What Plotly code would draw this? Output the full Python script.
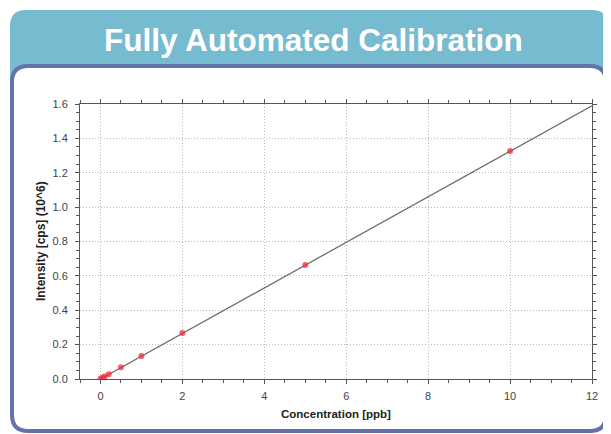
import plotly.graph_objects as go

# ---- data ----
concentration = [0, 0.05, 0.1, 0.2, 0.5, 1, 2, 5, 10]
intensity = [0.002, 0.008, 0.014, 0.027, 0.068, 0.134, 0.268, 0.664, 1.326]
fit_x = [0, 12]
fit_y = [0, 1.59]
x_ticks = [0, 2, 4, 6, 8, 10, 12]
y_ticks = [0.0, 0.2, 0.4, 0.6, 0.8, 1.0, 1.2, 1.4, 1.6]
y_tick_labels = ["0.0", "0.2", "0.4", "0.6", "0.8", "1.0", "1.2", "1.4", "1.6"]

OFF = 8  # page body margin
W, H = 611 - OFF, 434 - OFF
L, R, T, B = 80 - OFF, 19, 104 - OFF, 55
PW, PH = W - L - R, H - T - B


def px(x):
    return (x - OFF - L) / PW


def py(y):
    return 1 - (y - OFF - T) / PH


def rrect(x0, y0, x1, y1, r):
    pts = [
        ("M", [(x0 + r, y0)]),
        ("L", [(x1 - r, y0)]),
        ("Q", [(x1, y0), (x1, y0 + r)]),
        ("L", [(x1, y1 - r)]),
        ("Q", [(x1, y1), (x1 - r, y1)]),
        ("L", [(x0 + r, y1)]),
        ("Q", [(x0, y1), (x0, y1 - r)]),
        ("L", [(x0, y0 + r)]),
        ("Q", [(x0, y0), (x0 + r, y0)]),
    ]
    s = ""
    for cmd, ps in pts:
        s += cmd + " " + " ".join(f"{px(a):.5f},{py(b):.5f}" for a, b in ps) + " "
    return s + "Z"


fig = go.Figure()

fig.add_trace(go.Scatter(
    x=fit_x, y=fit_y, mode="lines",
    line=dict(color="#6e6e6e", width=1.3),
    showlegend=False, hoverinfo="skip",
))
fig.add_trace(go.Scatter(
    x=concentration, y=intensity, mode="markers",
    marker=dict(symbol="circle", size=6, color="rgba(235,45,60,0.75)",
                line=dict(width=0)),
    showlegend=False,
))

shapes = [
    dict(type="path", xref="paper", yref="paper", layer="below",
         path=rrect(10, 10, 608, 110, 16),
         fillcolor="#77BBD0", line=dict(width=0)),
    dict(type="path", xref="paper", yref="paper", layer="below",
         path=rrect(12, 66, 606, 431, 16),
         fillcolor="white", line=dict(color="#6272AA", width=4)),
]

annotations = [
    dict(text="<b>Fully Automated Calibration</b>", x=px(313), y=py(40),
         xref="paper", yref="paper", showarrow=False,
         font=dict(family="Liberation Sans, Arial", size=31.5, color="white"),
         xanchor="center", yanchor="middle"),
    dict(text="<b>Intensity [cps] (10^6)</b>", x=px(41), y=py(241),
         xref="paper", yref="paper", showarrow=False, textangle=-90,
         font=dict(family="Liberation Sans, Arial", size=12, color="#222"),
         xanchor="center", yanchor="middle"),
    dict(text="<b>Concentration [ppb]</b>", x=px(336), y=py(414),
         xref="paper", yref="paper", showarrow=False,
         font=dict(family="Liberation Sans, Arial", size=11.5, color="#222"),
         xanchor="center", yanchor="middle"),
]

fig.update_layout(
    width=W, height=H,
    margin=dict(l=L, r=R, t=T, b=B, pad=0),
    paper_bgcolor="white",
    plot_bgcolor="rgba(0,0,0,0)",
    shapes=shapes,
    annotations=annotations,
    font=dict(family="Liberation Sans, Arial", size=11, color="#444"),
)

fig.update_xaxes(
    range=[-0.5, 12], tickmode="array", tickvals=x_ticks,
    showline=True, linecolor="#555", linewidth=1, mirror="ticks",
    ticks="outside", ticklen=4, tickcolor="#555",
    showgrid=True, gridcolor="#b8b8b8", griddash="1px,2px", gridwidth=1,
    zeroline=False, ticklabelstandoff=3,
    minor=dict(dtick=0.5, tick0=0, ticks="outside", ticklen=3, tickcolor="#555", showgrid=False),
    tickfont=dict(size=11, color="#444"),
)
fig.update_yaxes(
    range=[0, 1.6], tickmode="array", tickvals=y_ticks, ticktext=y_tick_labels,
    showline=True, linecolor="#555", linewidth=1, mirror="ticks",
    ticks="outside", ticklen=4, tickcolor="#555",
    showgrid=True, gridcolor="#b8b8b8", griddash="1px,2px", gridwidth=1,
    zeroline=False, ticklabelstandoff=5,
    minor=dict(dtick=0.05, tick0=0, ticks="outside", ticklen=3, tickcolor="#555", showgrid=False),
    tickfont=dict(size=11, color="#444"),
)

fig.write_html("out.html")
